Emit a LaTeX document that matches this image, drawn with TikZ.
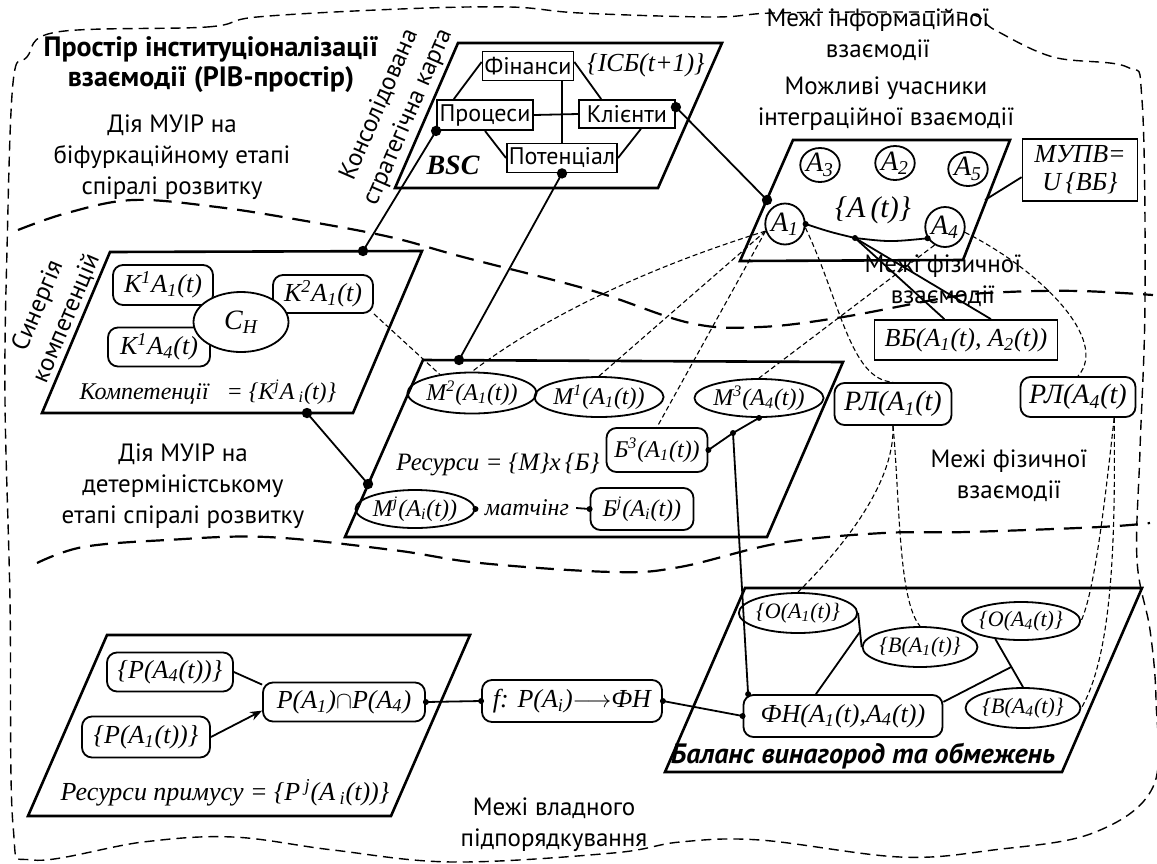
\documentclass[tikz,border=0pt]{standalone}
\usepackage{fontspec}
\setmainfont{PT Sans}
\newfontfamily\tm{Liberation Serif}
\usetikzlibrary{shapes.geometric,calc,arrows.meta}

\newcommand\Hi[1]{\textsuperscript{#1}}
\newcommand\Lo[1]{\textsubscript{#1}}

\tikzset{
  plane/.style={line width=1.3pt, line join=miter},
  txt/.style={font=\fontsize{12.5}{15.5}\selectfont, align=center, inner sep=0pt},
  ttl/.style={font=\bfseries\fontsize{14}{15}\selectfont, align=center, inner sep=0pt},
  lab/.style={font=\tm\itshape\fontsize{12}{14}\selectfont},
  sq/.style={draw, rectangle, line width=0.9pt, inner sep=1pt, font=\fontsize{12}{14}\selectfont},
  rbox/.style={draw, rectangle, rounded corners=5pt, line width=0.9pt, inner sep=1pt, lab},
  oval/.style={draw, ellipse, line width=0.9pt, inner sep=0pt, lab},
  link/.style={line width=0.9pt},
  dlink/.style={line width=0.55pt, dash pattern=on 2.5pt off 1.5pt},
  border/.style={line width=1.1pt, dash pattern=on 9pt off 5pt},
  outline/.style={line width=0.7pt, dash pattern=on 5pt off 3pt},
}

\begin{document}
\begin{tikzpicture}[x=0.5pt,y=-0.5pt]
\useasboundingbox (0,0) rectangle (1157,863);

% boundaries
\draw[outline] plot[smooth cycle, tension=0.6] coordinates {(57,32) (207,27) (257,17) (400,9) (510,7) (580,13) (713,17) (773,13) (900,12) (970,14) (995,30) (1053,57) (1127,67) (1142,100) (1145,300) (1140,450) (1137,560) (1150,630) (1156,700) (1153,787) (1093,833) (993,850) (900,857) (760,840) (680,842) (613,853) (453,862) (333,850) (233,837) (143,842) (33,860) (13,825) (10,600) (5,400) (7,250) (13,83) (27,57)};
\draw[border] plot[smooth, tension=0.6] coordinates {(18,230) (67,213) (133,200) (217,207) (300,220) (390,237) (463,257) (590,290) (690,323) (760,327) (843,317) (950,297) (1007,292) (1080,291) (1153,295)};
\draw[border] plot[smooth, tension=0.6] coordinates {(37,563) (83,547) (167,540) (267,537) (393,550) (480,563) (613,572) (680,567) (780,543) (883,533) (967,532) (1100,527) (1150,523)};

% texts
\node[ttl] (title) at (211,65) {Простір інституціоналізації\\взаємодії (РІВ-простір)};
\node[txt] (bif) at (172,157) {Дія МУІР на\\біфуркаційному етапі\\спіралі розвитку};
\node[txt] (det) at (183,486) {Дія МУІР на\\детерміністському\\етапі спіралі розвитку};
\node[txt] (info) at (878,35) {Межі інформаційної\\взаємодії};
\node[txt] (part) at (886,104) {Можливі учасники\\інтеграційної взаємодії};
\node[txt] (phys1) at (943,281) {Межі фізичної\\взаємодії};
\node[txt] (phys2) at (1009,476) {Межі фізичної\\взаємодії};
\node[txt] (vlad) at (554,825) {Межі владного\\підпорядкування};

% BSC
\draw[plane] (458,43) -- (722,43) -- (658,188) -- (395,188) -- cycle;
\node[txt, rotate=66.5] (kart) at (394,111) {Консолідована\\стратегічна карта};
\node[sq, minimum width=45pt, minimum height=14.5pt] (fin) at (528,66) {Фінанси};
\node[sq, minimum width=48pt, minimum height=15pt] (proc) at (485,115) {Процеси};
\node[sq, minimum width=48pt, minimum height=14pt] (kli) at (627,114) {Клієнти};
\node[sq, minimum width=53.5pt, minimum height=14.5pt] (pot) at (562,158) {Потенціал};
\node[lab, font=\tm\itshape\fontsize{13}{15}\selectfont] (isb) at (646,65) {\{ІСБ(t+1)\}};
\node[font=\tm\bfseries\itshape\fontsize{14}{16}\selectfont] (bsc) at (453,165) {BSC};
\draw[link] (fin.south -| pot.north) -- (pot.north);
\draw[link] (proc.east) -- (kli.west);
\draw[link] (fin.175) -- (proc.153);
\draw[link] (fin.5) -- (kli.150);
\draw[link] (proc.south) -- (pot.west);
\draw[link] (kli.-47) -- (pot.east);

% participants
\draw[plane] (793,140) -- (1010,140) -- (963,260) -- (740,261) -- cycle;
\coordinate (pa-in) at (767,200);
\coordinate (pa-out) at (985,200);
\node[oval, minimum width=18pt, minimum height=17pt, font=\tm\itshape\fontsize{14}{16}\selectfont] (a3) at (820,165) {A\Lo{3}};
\node[oval, minimum width=18pt, minimum height=17pt, font=\tm\itshape\fontsize{14}{16}\selectfont] (a2) at (895,163) {A\Lo{2}};
\node[oval, minimum width=18pt, minimum height=17pt, font=\tm\itshape\fontsize{14}{16}\selectfont] (a5) at (968,169) {A\Lo{5}};
\node[oval, minimum width=18pt, minimum height=20.5pt, font=\tm\itshape\fontsize{14}{16}\selectfont] (a1) at (785,224) {A\Lo{1}};
\node[oval, minimum width=18pt, minimum height=20pt, font=\tm\itshape\fontsize{14}{16}\selectfont] (a4) at (945,227) {A\Lo{4}};
\node[lab, font=\tm\itshape\fontsize{15}{17}\selectfont] (at) at (873,210) {\{A\,(t)\}};
\node[draw, line width=0.9pt, minimum width=57.5pt, minimum height=30pt, align=center, lab, font=\tm\itshape\fontsize{13}{14}\selectfont] (mupv) at (1080,170) {МУПВ=\\U\,\{ВБ\}};
\draw[link] (mupv.187) -- (pa-out);
\coordinate (ab) at (855,238);
\draw[link] (a1.east) .. controls (830,232) .. (ab) .. controls (890,242) .. (a4.213);
\node[draw, line width=0.9pt, minimum width=91.5pt, minimum height=20pt, lab, font=\tm\itshape\fontsize{13}{15}\selectfont] (vb) at (966,340) {ВБ(A\Lo{1}(t), A\Lo{2}(t))};
\draw[link] (ab) -- (vb.136);
\draw[link] (ab) -- (vb.40);
\draw[link] (kli.8) -- (pa-in);

% competences
\draw[plane] (110,252) -- (422,251) -- (353,413) -- (42,413) -- cycle;
\node[txt, rotate=67] (syn) at (52,312) {Синергія\\компетенцій};
\coordinate (syn-top) at (363,251);
\coordinate (syn-bot) at (307,413);
\node[rbox, minimum width=50pt, minimum height=20pt, font=\tm\itshape\fontsize{13}{15}\selectfont] (k1a1) at (163,285) {K\Hi{1}A\Lo{1}(t)};
\node[rbox, minimum width=50pt, minimum height=19pt, font=\tm\itshape\fontsize{13}{15}\selectfont] (k2a1) at (323,294) {K\Hi{2}A\Lo{1}(t)};
\node[rbox, minimum width=51pt, minimum height=19.5pt, font=\tm\itshape\fontsize{13}{15}\selectfont] (k1a4) at (159,347) {K\Hi{1}A\Lo{4}(t)};
\node[oval, fill=white, minimum width=47.5pt, minimum height=30pt, font=\tm\itshape\fontsize{14}{16}\selectfont] (ch) at (241,322) {C\Lo{H}};
\node[lab] (komp) at (208,392) {Компетенції \ \ = \{K\Hi{j}A\,\Lo{i}(t)\}};
\draw[link] (proc.south west) -- (syn-top);

% resources
\draw[plane] (423,360) -- (843,362) -- (767,537) -- (345,537) -- cycle;
\coordinate (res-top) at (459,360);
\coordinate (res-left) at (368,484);
\coordinate (jn) at (733,433);
\node[oval, minimum width=50.5pt, minimum height=20.5pt] (m2) at (472,393) {M\Hi{2}(A\Lo{1}(t))};
\node[oval, minimum width=51pt, minimum height=20pt] (m1) at (599,397) {M\Hi{1}(A\Lo{1}(t))};
\node[oval, minimum width=50.5pt, minimum height=19pt] (m3) at (759,398) {M\Hi{3}(A\Lo{4}(t))};
\node[rbox, minimum width=50.5pt, minimum height=22pt] (b3) at (657,450) {Б\Hi{3}(A\Lo{1}(t))};
\node[lab, font=\tm\itshape\fontsize{12.5}{15}\selectfont] (res) at (498,465) {Ресурси = \{M\}x\,\{Б\}};
\node[oval, minimum width=52.5pt, minimum height=19pt] (mj) at (415,509) {M\Hi{j}(A\Lo{i}(t))};
\node[lab] (match) at (527,508) {матчінг};
\node[rbox, minimum width=51.5pt, minimum height=21pt] (bj) at (642,509) {Б\Hi{j}(A\Lo{i}(t))};
\draw[link] (pot.south) -- (res-top);
\draw[link] (syn-bot) -- (res-left);
\draw[link] (mj.east) -- (match.west);
\draw[link] (match.east) -- (bj.west);
\draw[link] (b3.east) -- (jn) -- (m3.south);
\draw[dlink] (k2a1.south east) -- (m2.150);

% balance
\draw[plane] (745,588) -- (1142,588) -- (1062,772) -- (665,772) -- cycle;
\node[oval, minimum width=51.5pt, minimum height=20pt, font=\tm\itshape\fontsize{11}{13}\selectfont] (oa1) at (798,613) {\{O(A\Lo{1}(t)\}};
\node[oval, minimum width=52pt, minimum height=20pt, font=\tm\itshape\fontsize{11}{13}\selectfont] (ba1) at (920,647) {\{B(A\Lo{1}(t)\}};
\node[oval, minimum width=51.5pt, minimum height=19pt, font=\tm\itshape\fontsize{11}{13}\selectfont] (oa4) at (1021,621) {\{O(A\Lo{4}(t)\}};
\node[oval, minimum width=51.5pt, minimum height=20pt, font=\tm\itshape\fontsize{11}{13}\selectfont] (ba4) at (1023,708) {\{B(A\Lo{4}(t)\}};
\node[rbox, minimum width=99.5pt, minimum height=21pt, font=\tm\itshape\fontsize{13}{15}\selectfont] (fh) at (843,716) {ФН(A\Lo{1}(t),A\Lo{4}(t))};
\node[font=\bfseries\itshape\fontsize{14}{16}\selectfont] (bal) at (863,756) {Баланс винагород та обмежень};
\coordinate (j1) at ($(oa1.east)!0.55!(ba1.west)$);
\coordinate (j4) at ($(oa4.215)!0.58!(ba4.north)$);
\draw[link] (oa1.east) -- (ba1.west);
\draw[link] (fh.141) -- (j1);
\draw[link] (oa4.215) -- (ba4.north);
\draw[link] (fh.8) -- (j4);
\draw[link] (jn) -- (fh.167);

% coercion
\draw[plane] (107,635) -- (470,635) -- (391,816) -- (28,816) -- cycle;
\node[rbox, minimum width=63pt, minimum height=19.5pt, font=\tm\itshape\fontsize{13}{15}\selectfont] (pa4) at (170,672) {\{P(A\Lo{4}(t))\}};
\node[rbox, minimum width=64pt, minimum height=20.5pt, font=\tm\itshape\fontsize{13}{15}\selectfont] (pa1) at (146,737) {\{P(A\Lo{1}(t))\}};
\node[rbox, minimum width=81pt, minimum height=19.5pt, font=\tm\itshape\fontsize{13}{15}\selectfont] (pint) at (344,702) {P(A\Lo{1})$\cap$P(A\Lo{4})};
\node[lab, font=\tm\itshape\fontsize{13}{15}\selectfont] (ptext) at (225,793) {Ресурси примусу = \{P\,\Hi{j}(A\,\Lo{i}(t))\}};
\node[rbox, minimum width=90pt, minimum height=21pt, font=\tm\itshape\fontsize{13}{15}\selectfont] (fbox) at (572,701) {f: P(A\Lo{i})$\longrightarrow$ФН};
\draw[link] (pa4.east) -- (pint.168);
\draw[link, -{Stealth[length=6pt]}] (pa1.east) -- (pint.186);
\draw[link] (pint.east) -- (fbox.west);
\draw[link] (fbox.east) -- (fh.west);

% physical links
\node[rbox, minimum width=58.5pt, minimum height=21pt, font=\tm\itshape\fontsize{14}{16}\selectfont] (rl1) at (893,404) {РЛ(A\Lo{1}(t)};
\node[rbox, minimum width=57.5pt, minimum height=20pt, font=\tm\itshape\fontsize{14}{16}\selectfont] (rl4) at (1078,397) {РЛ(A\Lo{4}(t)};
\draw[dlink] (a1.200) .. controls (640,270) and (540,320) .. (m2.north);
\draw[dlink] (a1.200) -- (m1.north);
\draw[dlink] (a1.200) -- (b3.north);
\draw[dlink] (a4.240) -- (m3.north);
\draw[dlink] (a1.-10) .. controls (840,300) and (850,380) .. (rl1.north);
\draw[dlink] (a4.-15) .. controls (1040,270) and (1110,340) .. (rl4.north);
\draw[dlink] (rl1.south) .. controls (900,500) and (898,600) .. (ba1.north);
\draw[dlink] (rl1.south) .. controls (895,490) and (830,560) .. (oa1.north);
\draw[dlink] (rl4.-30) .. controls (1105,500) and (1095,590) .. (oa4.east);
\draw[dlink] (rl4.-30) .. controls (1115,520) and (1115,650) .. (ba4.east);

% dots
\fill (proc.south west) circle (2.6pt);
\fill (syn-top) circle (2.6pt);
\fill (pot.south) circle (2.6pt);
\fill (res-top) circle (2.6pt);
\fill (kli.8) circle (2.6pt);
\fill (pa-in) circle (2.6pt);
\fill (syn-bot) circle (2.6pt);
\fill (res-left) circle (2.6pt);
\fill (a1.east) circle (1.5pt);
\fill (ab) circle (1.5pt);
\fill (a4.213) circle (1.5pt);
\fill (b3.east) circle (1.5pt);
\fill (jn) circle (1.5pt);
\fill (m3.south) circle (1.5pt);
\fill (fh.167) circle (1.5pt);
\fill (mj.east) circle (1.5pt);
\fill (bj.west) circle (1.5pt);
\fill (pint.east) circle (1.5pt);
\fill (fbox.west) circle (1.5pt);
\fill (fbox.east) circle (1.5pt);
\fill (fh.west) circle (1.5pt);
\end{tikzpicture}
\end{document}
